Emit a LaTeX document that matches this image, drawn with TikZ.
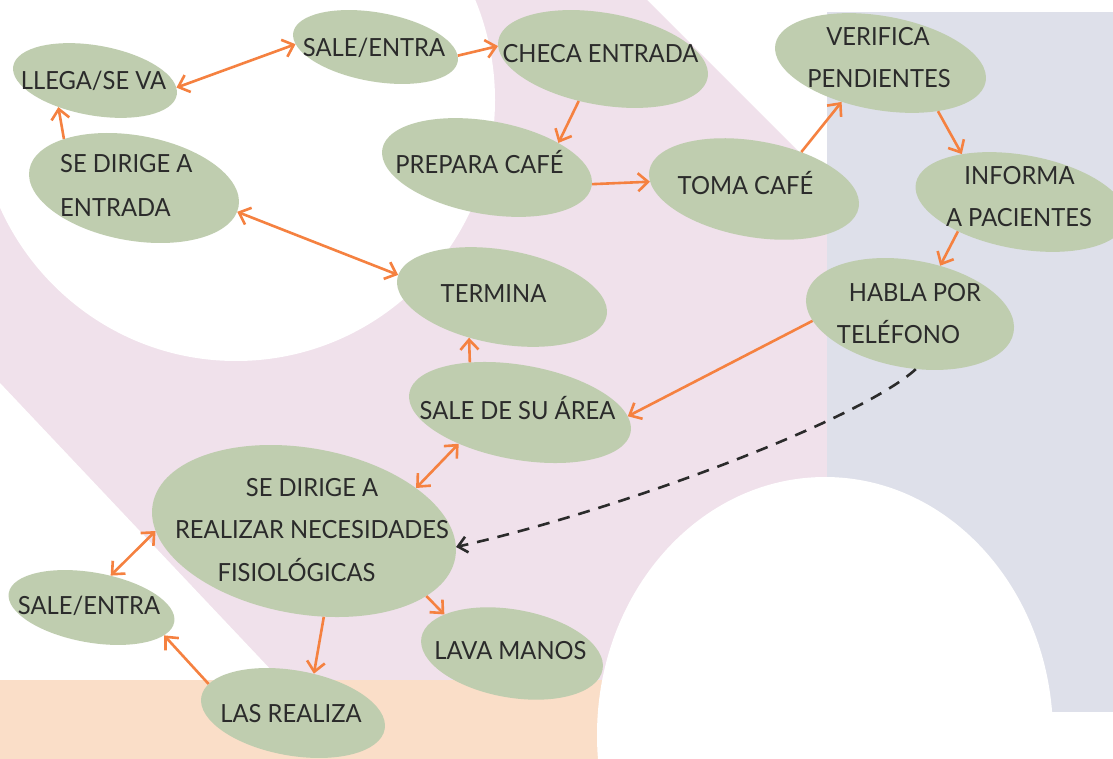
\documentclass[tikz,border=0pt]{standalone}
\usepackage{fontspec}
\setmainfont{Lato}[FakeStretch=0.95]
\usetikzlibrary{shapes.geometric,arrows.meta}
\definecolor{sage}{HTML}{BFCDAF}
\definecolor{orng}{HTML}{F58140}
\definecolor{pinkbg}{HTML}{F0E1EB}
\definecolor{graybg}{HTML}{DEE0EA}
\definecolor{peachbg}{HTML}{FADEC8}
\definecolor{txt}{HTML}{2B2B2B}
\tikzset{
  bub/.style={ellipse, fill=sage, inner sep=0pt, rotate=-10},
  lbl/.style={anchor=base, text=txt, inner sep=0pt, font=\fontsize{25}{30}\selectfont},
  lbll/.style={lbl, anchor=base west},
  arr/.style={draw=orng, line width=2.6pt, -{Straight Barb[length=10pt,width=18pt]}},
  darr/.style={draw=orng, line width=2.6pt, {Straight Barb[length=10pt,width=18pt]}-{Straight Barb[length=10pt,width=18pt]}},
  dshd/.style={draw=txt, line width=2.6pt, dash pattern=on 12pt off 9pt, -{Straight Barb[length=9pt,width=16pt]}}
}
\begin{document}
\begin{tikzpicture}[x=1pt,y=1pt]
\useasboundingbox (0,0) rectangle (1113,-759);
\begin{scope}
\clip (0,0) rectangle (1113,-759);
\fill[white] (0,0) rectangle (1113,-759);
\fill[pinkbg] (0,0) -- (647,0) -- (827,-180) -- (827,-690) -- (0,-690) -- cycle;
\fill[white] (0,-383) -- (290,-690) -- (0,-690) -- cycle;
\fill[peachbg] (0,-680) rectangle (760,-759);
\fill[graybg] (827,-12) rectangle (1113,-712);
\fill[white] (236,-100) ellipse [x radius=259, y radius=261];
\fill[white] (825,-735) ellipse [x radius=228, y radius=258];
\end{scope}

% ellipses
\node[bub, minimum width=166, minimum height=70] (e1) at (95,-80.5) {};
\node[bub, minimum width=167, minimum height=69] (e2) at (375.5,-47) {};
\node[bub, minimum width=212.6, minimum height=92] (e3) at (603,-59) {};
\node[bub, minimum width=213.6, minimum height=94] (e4) at (880.5,-63) {};
\node[bub, minimum width=212.4, minimum height=105.2] (e5) at (134,-188) {};
\node[bub, minimum width=212.6, minimum height=93] (e6) at (487,-167.5) {};
\node[bub, minimum width=212.6, minimum height=96] (e7) at (754,-189) {};
\node[bub, minimum width=213.6, minimum height=94] (e8) at (1021,-202) {};
\node[bub, minimum width=210.4, minimum height=107.4] (e9) at (910,-314) {};
\node[bub, minimum width=212.6, minimum height=94] (e10) at (502,-297) {};
\node[bub, minimum width=224.8, minimum height=94.6] (e11) at (520,-412.5) {};
\node[bub, minimum width=307.2, minimum height=166] (e12) at (304,-531) {};
\node[bub, minimum width=168, minimum height=70] (e13) at (91.5,-607.5) {};
\node[bub, minimum width=186.2, minimum height=85.2] (e14) at (293,-713) {};
\node[bub, minimum width=184, minimum height=88] (e15) at (512,-653.5) {};

% connectors
\draw[darr] (e1.5.6) -- (e2.188.6);
\draw[arr] (e5.155) -- (e1.226);
\draw[arr] (e2.4.5) -- (e3.183.6);
\draw[arr] (e3.250.8) -- (e6.29);
\draw[arr] (e6.1.8) -- (e7.186.6);
\draw[arr] (e7.48.2) -- (e4.235.3);
\draw[arr] (e4.-30.7) -- (e8.151.6);
\draw[arr] (e8.215.5) -- (e9.68.7);
\draw[arr] (e9.194) -- (e11.8.7);
\draw[darr] (e5.-3.4) -- (e10.178.3);
\draw[arr] (e11.145.8) -- (e10.241.7);
\draw[darr] (e12.31.8) -- (e11.217.7);
\draw[darr] (e12.190.8) -- (e13.69.3);
\draw[arr] (e12.-67.7) -- (e14.72.3);
\draw[arr] (e12.-18) -- (e15.160.3);
\draw[arr] (e14.171.6) -- (e13.-11);
\draw[dshd] (e9.-74) .. controls (860,-420) and (620,-510) .. (e12.4.8);

% labels
\node[lbl] (t1) at (93.5,-89.5) {LLEGA/SE VA};
\node[lbl] (t2) at (374,-56.5) {SALE/ENTRA};
\node[lbl] (t3) at (600.5,-62.5) {CHECA ENTRADA};
\node[lbl] (t4a) at (878,-45.5) {VERIFICA};
\node[lbl] (t4b) at (879,-87.5) {PENDIENTES};
\node[lbll] (t5a) at (60,-172.5) {SE DIRIGE A};
\node[lbll] (t5b) at (60,-216.5) {ENTRADA};
\node[lbl] (t6) at (479.5,-173.5) {PREPARA CAFÉ};
\node[lbl] (t7) at (745.5,-194.5) {TOMA CAFÉ};
\node[lbl] (t8a) at (1019.5,-184.5) {INFORMA};
\node[lbl] (t8b) at (1019,-226.5) {A PACIENTES};
\node[lbl] (t9a) at (915,-301.5) {HABLA POR};
\node[lbl] (t9b) at (898.5,-343.5) {TELÉFONO};
\node[lbl] (t10) at (493.5,-302.5) {TERMINA};
\node[lbl] (t11) at (517.5,-419.5) {SALE DE SU ÁREA};
\node[lbl] (t12a) at (312,-496.5) {SE DIRIGE A};
\node[lbl] (t12b) at (312,-538.5) {REALIZAR NECESIDADES};
\node[lbl] (t12c) at (296.5,-581.5) {FISIOLÓGICAS};
\node[lbl] (t13) at (89,-614.5) {SALE/ENTRA};
\node[lbl] (t14) at (291,-722.5) {LAS REALIZA};
\node[lbl] (t15) at (510.5,-659.5) {LAVA MANOS};
\end{tikzpicture}
\end{document}
